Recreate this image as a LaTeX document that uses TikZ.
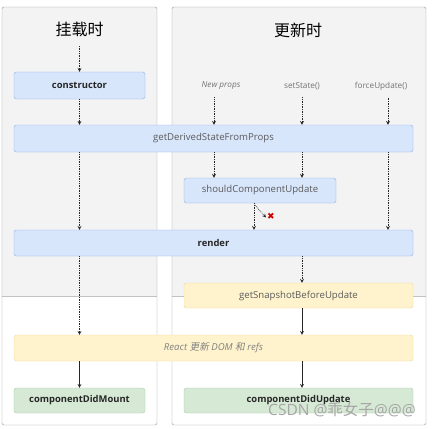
\documentclass[tikz,border=0pt]{standalone}
\usepackage{fontspec}
\setmainfont{Open Sans}
\newfontfamily\cjk{Noto Sans CJK SC}
\newfontfamily\cjkslant[FakeSlant=0.2]{Noto Sans CJK SC}
\newfontfamily\symb{DejaVu Sans}
\usepackage{xcolor}
\usetikzlibrary{arrows}

\definecolor{paneFill}{HTML}{F3F3F3}
\definecolor{paneLine}{HTML}{9A9A9A}
\definecolor{blueFill}{HTML}{D8E6FC}
\definecolor{blueLine}{HTML}{8EAEE6}
\definecolor{yellowFill}{HTML}{FFF3CD}
\definecolor{yellowLine}{HTML}{EED89A}
\definecolor{greenFill}{HTML}{D6E9D5}
\definecolor{greenLine}{HTML}{ABCBA9}
\definecolor{textGray}{HTML}{5A5A5A}

\begin{document}
\begin{tikzpicture}[
 x=1pt, y=-1pt,
 block/.style = {
    rectangle,
    rounded corners=2.5pt,
    draw=blueLine,
    fill=blueFill,
    inner sep=0pt,
    minimum height=26pt,
    text=textGray,
    font=\fontsize{9.6}{11}\selectfont},
 strong/.style = {font=\fontsize{9.4}{11}\selectfont\bfseries, text=black!85},
 sunny/.style = {block, draw=yellowLine, fill=yellowFill},
 leafy/.style = {block, draw=greenLine, fill=greenFill},
 trigger/.style = {text=black!55, font=\fontsize{8.2}{9}\selectfont},
 flow/.style = {->, >=stealth, densely dotted, line width=0.7pt, black!85},
 solidflow/.style = {->, >=stealth, line width=0.7pt, black!85}
 ]
\useasboundingbox (0,0) rectangle (438,428);

% the two phases
\fill[white] (2,7) rectangle (157,425);
\fill[paneFill] (2,7) rectangle (157,296);
\draw[paneLine!60] (2,296) -- (157,296);
\draw[paneLine, rounded corners=1.5pt] (2,7) rectangle (157,425);
\fill[white] (172,7) rectangle (426,425);
\fill[paneFill] (172,7) rectangle (426,296);
\draw[paneLine!60] (172,296) -- (426,296);
\draw[paneLine, rounded corners=1.5pt] (172,7) rectangle (426,425);

\node(mounttitle) at (79.5,29) [font=\cjk\fontsize{16}{18}\selectfont]{挂载时};
\node(updatetitle) at (298,30) [font=\cjk\fontsize{16}{18}\selectfont]{更新时};

\node(newprops) at (221,86) [trigger, font=\fontsize{8.2}{9}\selectfont\itshape]{New props};
\node(setstate) at (302,86) [trigger]{setState()};
\node(forceupdate) at (381,86) [trigger]{forceUpdate()};

\node(constructor) at (79.5,85.5) [block, strong, minimum width=131pt, minimum height=27pt]{constructor};
\node(gdsfp) at (213.5,138.5) [block, minimum width=399pt, minimum height=27pt]{getDerivedStateFromProps};
\node(scu) at (260,190.5) [block, minimum width=152pt, minimum height=25pt]{shouldComponentUpdate};
\node(render) at (213.5,243) [block, strong, minimum width=399pt]{render};
\node(snapshot) at (298.5,295.5) [sunny, minimum width=229pt, minimum height=25pt]{getSnapshotBeforeUpdate};
\node(domrefs) at (213.5,348) [sunny, minimum width=399pt, text=black!50, font=\fontsize{9.6}{11}\selectfont\itshape]{React {\cjkslant 更新} DOM {\cjkslant 和} refs};
\node(didmount) at (79.5,400.5) [leafy, strong, minimum width=131pt, minimum height=25pt]{componentDidMount};
\node(didupdate) at (298.5,400.5) [leafy, strong, minimum width=229pt, minimum height=25pt]{componentDidUpdate};
\node(nope) at (271,216.5) [text=red!80!black, inner sep=0pt, font=\symb\bfseries\fontsize{9}{9}\selectfont]{✖};

% mounting
\draw[flow] ([yshift=-17pt]mounttitle.center) -- (constructor);
\draw[flow] (constructor) -- (constructor |- gdsfp.north);
\draw[flow] (gdsfp.south -| constructor) -- (render.north -| constructor);
\draw[flow] (render.south -| constructor) -- (domrefs.north -| constructor);
\draw[solidflow] (domrefs.south -| didmount) -- (didmount);

% updating
\draw[flow] ([xshift=-7pt,yshift=-4pt]newprops.south) coordinate (np) -- (np |- gdsfp.north);
\draw[flow] ([yshift=-4pt]setstate.south) coordinate (ss) -- (ss |- gdsfp.north);
\draw[flow] ([xshift=7pt,yshift=-4pt]forceupdate.south) coordinate (fu) -- (fu |- gdsfp.north);
\draw[flow] (gdsfp.south -| np) -- (scu.north -| np);
\draw[flow] (gdsfp.south -| ss) -- (scu.north -| ss);
\draw[flow] (gdsfp.south -| fu) -- (render.north -| fu);
\draw[flow] ([xshift=-6pt]scu.south) coordinate (go) -- (go |- render.north);
\draw[flow] ([xshift=-5pt,yshift=-2pt]scu.south) -- ([xshift=-1pt,yshift=-1pt]nope.west);
\draw[flow] (render.south -| ss) -- (snapshot.north -| ss);
\draw[solidflow] (snapshot.south -| ss) -- (domrefs.north -| ss);
\draw[solidflow] (domrefs.south -| ss) -- (didupdate.north -| ss);

\node(mark) at (342,410) [text=black!35, font=\fontsize{15.5}{17}\selectfont]{CSDN @{\cjk 乖女子}@@@};
\end{tikzpicture}
\end{document}
